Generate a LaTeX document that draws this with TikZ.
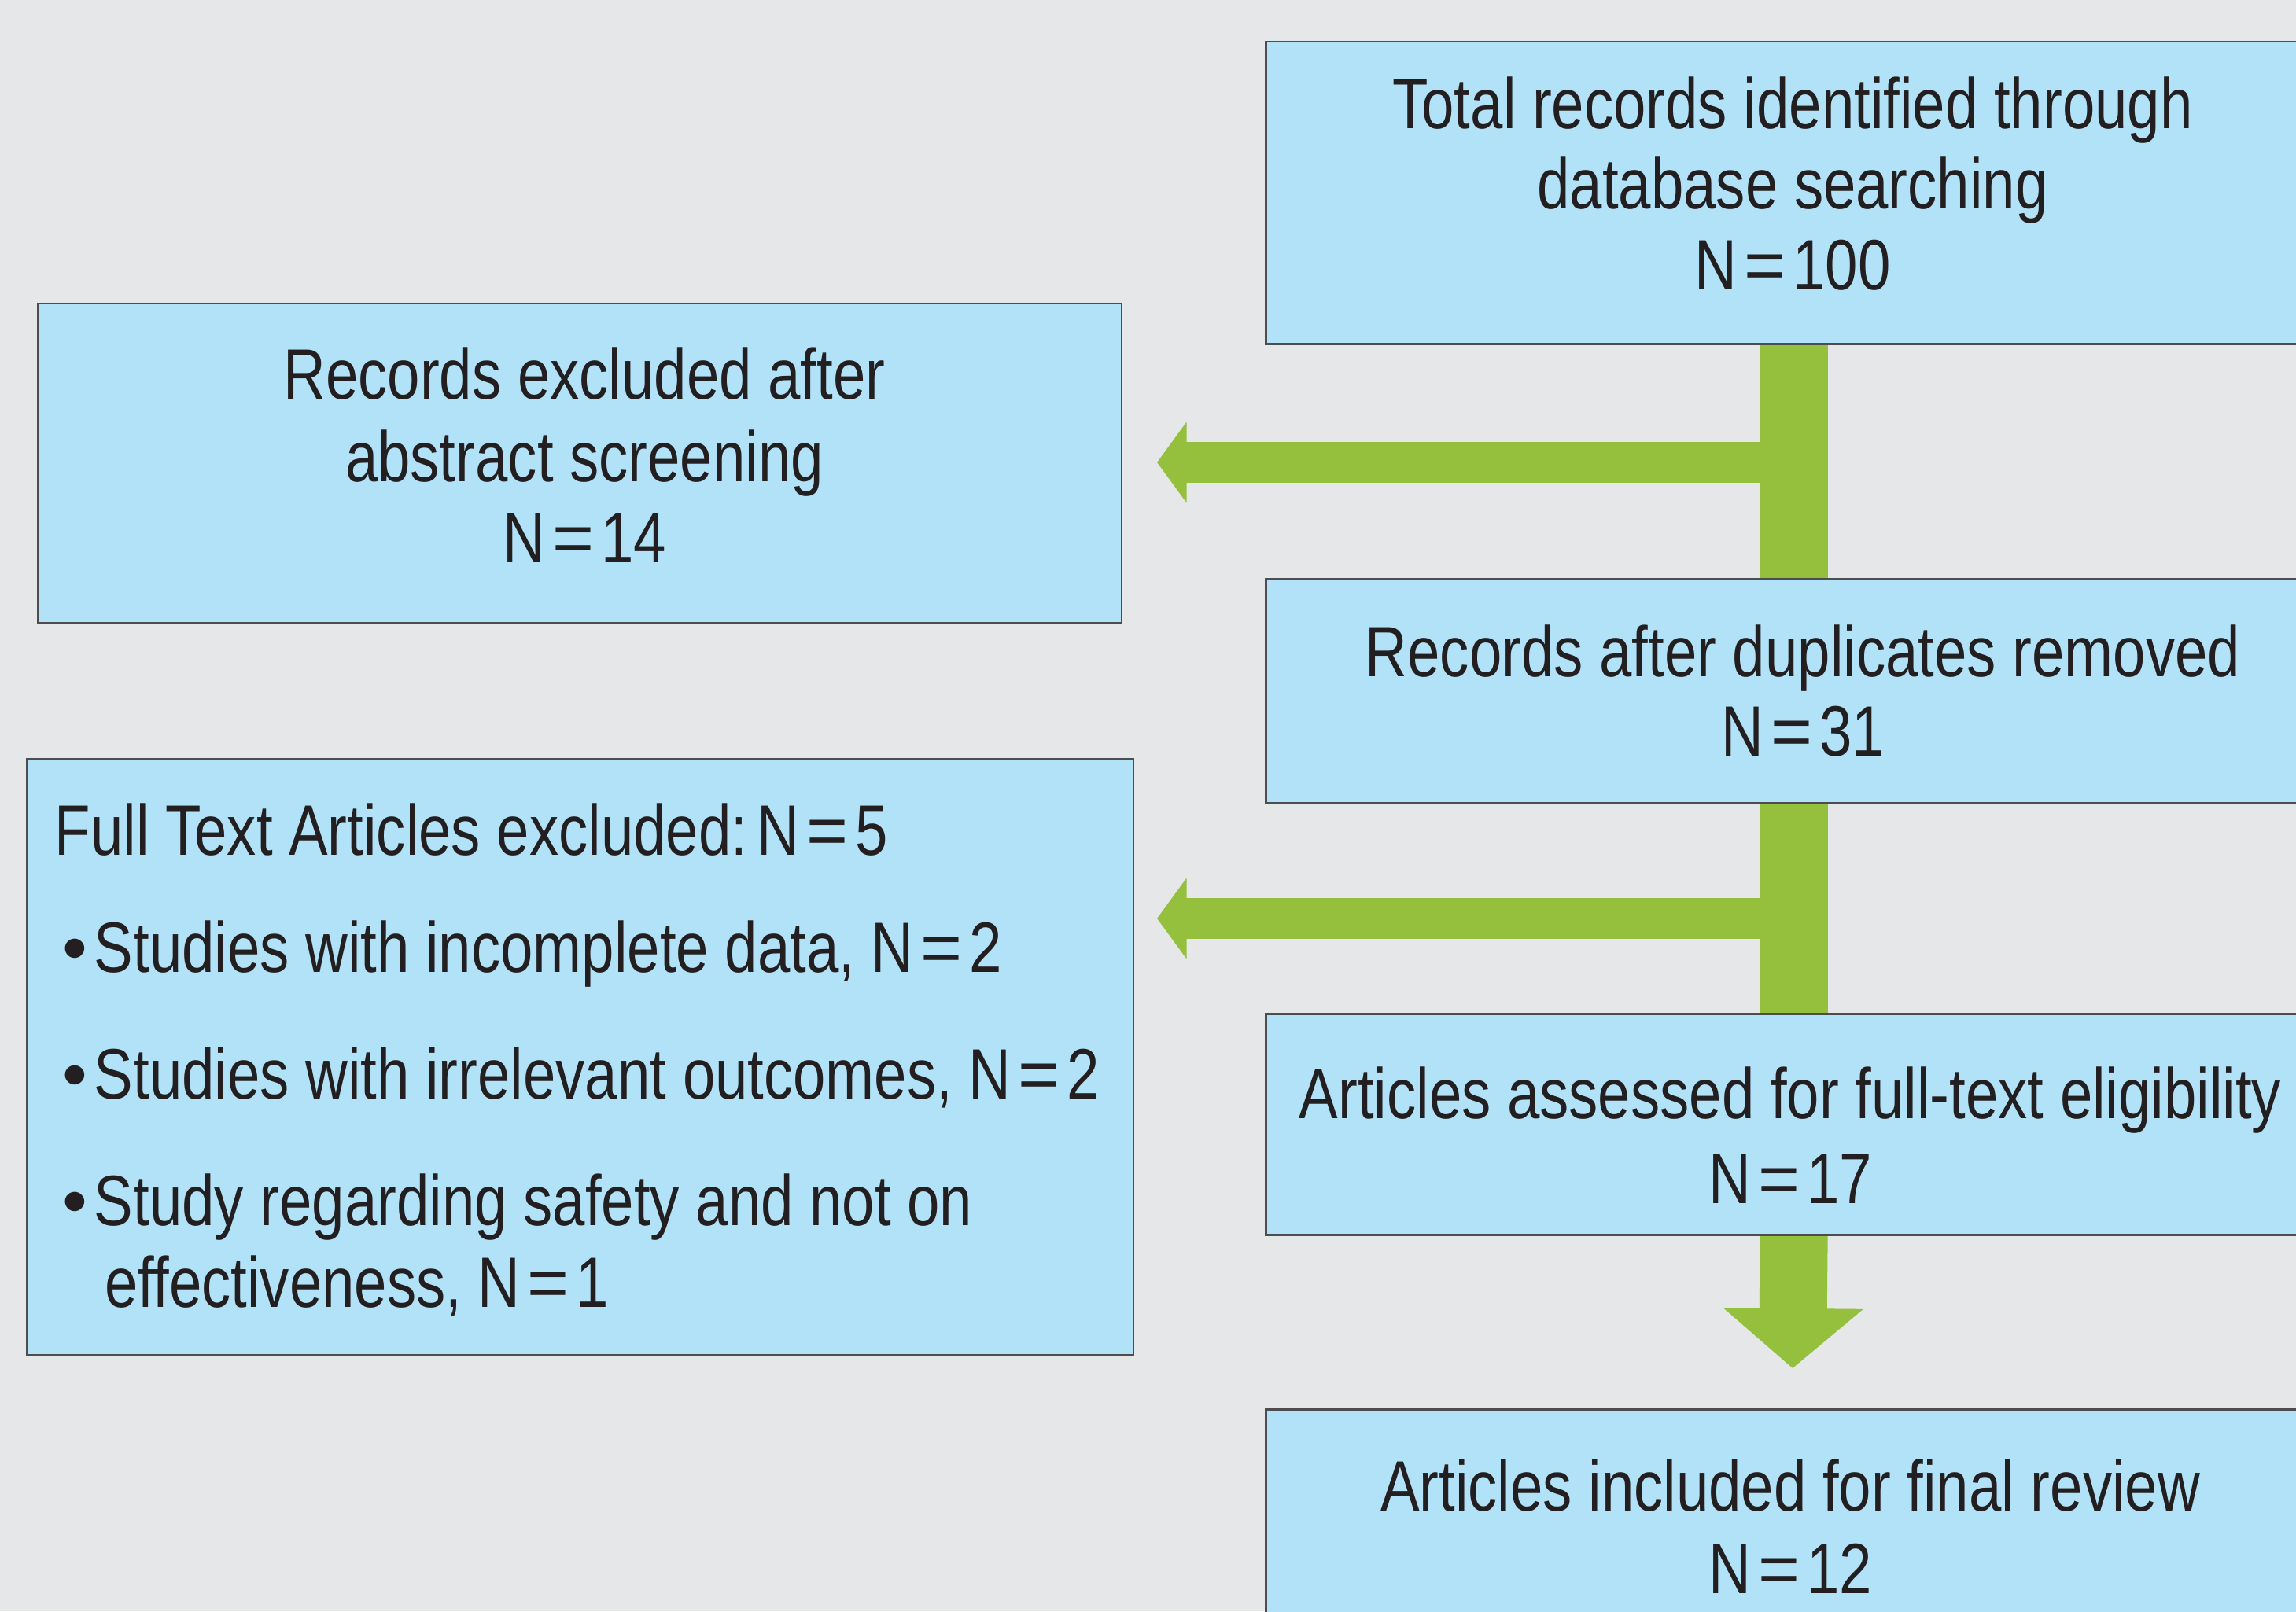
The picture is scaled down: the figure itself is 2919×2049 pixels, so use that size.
\documentclass[tikz,border=0pt]{standalone}
\usepackage{fontspec}
\setmainfont{Liberation Sans}[FakeStretch=0.82]
\newfontfamily\plainfont{Liberation Sans}
\usetikzlibrary{arrows.meta}
\definecolor{bgcol}{HTML}{E6E7E9}
\definecolor{boxfill}{HTML}{B2E2F8}
\definecolor{boxline}{HTML}{4D4D4F}
\definecolor{grn}{HTML}{94C03D}
\definecolor{txtcol}{HTML}{231F20}
\newcommand{\fsz}{\fontsize{25.8pt}{30pt}\selectfont}
\newcommand{\eqsign}{{\plainfont\kern0.1em=\kern0.1em}}
\pgfdeclarelayer{back}
\pgfsetlayers{back,main}
\tikzset{
  box/.style={rectangle, draw=boxline, fill=boxfill, line width=0.025cm, inner sep=0pt, anchor=north west},
  txt/.style={text=txtcol, inner sep=0pt, anchor=base, font=\fsz},
  ltxt/.style={txt, anchor=base west},
  btxt/.style={text=txtcol, inner sep=0pt, anchor=base, font=\fsz\plainfont},
  vbar/.style={draw=grn, line width=0.86cm, line cap=butt},
  harrow/.style={draw=grn, line width=0.51cm, line cap=butt, -{Triangle[length=0.375cm, width=1.01cm]}},
  darrow/.style={draw=grn, line width=0.86cm, line cap=butt, -{Triangle[length=0.76cm, width=1.74cm]}}
}
\begin{document}
\begin{tikzpicture}[x=0.01cm, y=-0.01cm]
\useasboundingbox (0,0) rectangle (2919,2049);
\begin{pgfonlayer}{back}
\fill[bgcol] (0,0) rectangle (2919,2049);
\end{pgfonlayer}
\clip (0,0) rectangle (2919,2049);
% boxes
\node[box, minimum width=13.42cm, minimum height=3.84cm] (top) at (1608,52) {};
\node[box, minimum width=13.77cm, minimum height=4.06cm] (exc1) at (47,385) {};
\node[box, minimum width=13.42cm, minimum height=2.85cm] (dup) at (1608,735) {};
\node[box, minimum width=14.06cm, minimum height=7.58cm] (ft) at (33,964) {};
\node[box, minimum width=13.42cm, minimum height=2.81cm] (assess) at (1608,1288) {};
\node[box, minimum width=13.42cm, minimum height=3.20cm] (final) at (1608,1791) {};
% texts
\node[txt] (t1a) at (2279,164) {Total records identified through};
\node[txt] (t1b) at (2279,266) {database searching};
\node[txt] (t1c) at (2279,369) {N\eqsign 100};
\node[txt] (e1a) at (743,508) {Records excluded after};
\node[txt] (e1b) at (743,613) {abstract screening};
\node[txt] (e1c) at (743,715) {N\eqsign 14};
\node[txt] (d1a) at (2292,860) {Records after duplicates removed};
\node[txt] (d1b) at (2292,961) {N\eqsign 31};
\node[ltxt] (f0) at (69,1087) {Full Text Articles excluded:\kern-0.09em\ N\eqsign 5};
\node[btxt] (b1) at (95,1236) {•};
\node[ltxt] (f1) at (119,1236) {Studies with incomplete data, N\eqsign 2};
\node[btxt] (b2) at (95,1397) {•};
\node[ltxt] (f2) at (119,1397) {Studies with irrelevant outcomes, N\eqsign 2};
\node[btxt] (b3) at (95,1558) {•};
\node[ltxt] (f3) at (119,1558) {Study regarding safety and not on};
\node[ltxt] (f4) at (133,1662) {effectiveness, N\eqsign 1};
\node[txt] (a1a) at (2276,1422) {Articles assessed for full-text eligibility};
\node[txt] (a1b) at (2276,1530) {N\eqsign 17};
\node[txt] (n1a) at (2276,1921) {Articles included for final review};
\node[txt] (n1b) at (2276,2026) {N\eqsign 12};
% connectors
\coordinate (j1) at (2279,588);
\coordinate (j2) at (2279,1168);
\coordinate (tip1) at (1471,588);
\coordinate (tip2) at (1471,1168);
\coordinate (tip3) at (2279,1740);
\begin{pgfonlayer}{back}
\draw[vbar] (top.south) -- (dup.north);
\draw[vbar] (dup.south) -- (assess.north);
\draw[harrow] (j1) -- (tip1);
\draw[harrow] (j2) -- (tip2);
\draw[darrow] (assess.south) -- (tip3);
\end{pgfonlayer}
\end{tikzpicture}
\end{document}
